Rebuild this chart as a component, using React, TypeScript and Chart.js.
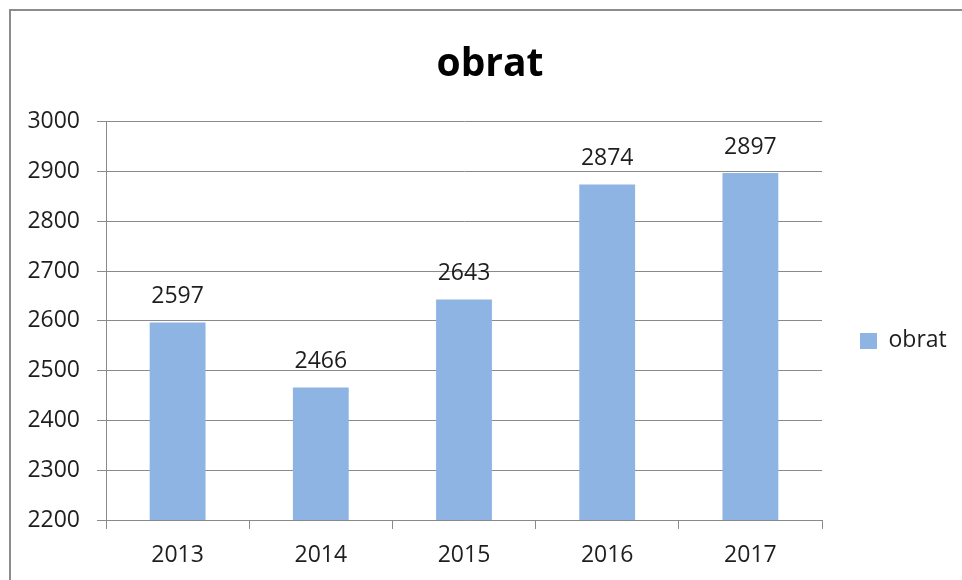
import React, { useEffect, useRef } from "react";
import { Chart, registerables } from "chart.js";

Chart.register(...registerables);

const categories = ["2013", "2014", "2015", "2016", "2017"];
const obratValues = [2597, 2466, 2643, 2874, 2897];
const seriesName = "obrat";
const chartTitle = "obrat";
const yMin = 2200;
const yMax = 3000;
const yStep = 100;

const FONT = "'Open Sans', 'Noto Sans', sans-serif";
const TEXT = "#1e1e1e";
const GRID = "#8a8a8a";
const BAR = "#8EB4E3";

const valueLabels = {
  id: "valueLabels",
  afterDatasetsDraw(chart: any) {
    const ctx = chart.ctx;
    const meta = chart.getDatasetMeta(0);
    const data = chart.data.datasets[0].data;
    ctx.save();
    ctx.font = `23px ${FONT}`;
    ctx.fillStyle = TEXT;
    ctx.textAlign = "center";
    ctx.textBaseline = "middle";
    meta.data.forEach((bar: any, i: number) => {
      ctx.fillText(String(data[i]), bar.x, bar.y - 26);
    });
    ctx.restore();
  },
};

const legendWidth = {
  id: "legendWidth",
  afterInit(chart: any) {
    const lg = chart.legend;
    if (!lg) return;
    const orig = lg.fit.bind(lg);
    lg.fit = function () {
      orig();
      this.width = 140;
    };
  },
};

export default function App() {
  const ref = useRef<HTMLCanvasElement | null>(null);

  useEffect(() => {
    if (!ref.current) return;
    const chart = new Chart(ref.current, {
      type: "bar",
      data: {
        labels: categories,
        datasets: [
          {
            label: seriesName,
            data: obratValues,
            backgroundColor: BAR,
            borderWidth: 0,
            barPercentage: 0.39,
            categoryPercentage: 1,
          },
        ],
      },
      options: {
        animation: false,
        responsive: false,
        maintainAspectRatio: false,
        layout: { padding: { left: 18, right: 0, top: 0, bottom: 0 } },
        plugins: {
          tooltip: { enabled: false },
          title: {
            display: true,
            text: chartTitle,
            color: "#000",
            font: { family: FONT, size: 39, weight: "bold" },
            padding: { top: 41, bottom: 34 },
          },
          legend: {
            display: true,
            position: "right",
            fullSize: false,
            title: {
              display: true,
              text: "",
              font: { size: 10, lineHeight: 1 },
              padding: { top: 30, bottom: 0 },
            },
            labels: {
              boxWidth: 17,
              boxHeight: 16,
              padding: 38,
              color: TEXT,
              font: { family: FONT, size: 23 },
            },
          },
        },
        scales: {
          x: {
            offset: true,
            grid: {
              display: true,
              offset: true,
              drawOnChartArea: false,
              drawTicks: true,
              tickLength: 9,
              color: GRID,
            },
            border: { display: true, color: GRID, width: 1 },
            ticks: {
              color: TEXT,
              font: { family: FONT, size: 23 },
              padding: 13,
              maxRotation: 0,
            },
            afterFit(scale: any) {
              scale.height = 60;
            },
          },
          y: {
            min: yMin,
            max: yMax,
            grid: {
              color: GRID,
              tickLength: 9,
              drawTicks: true,
            },
            border: { display: true, color: GRID, width: 1 },
            ticks: {
              stepSize: yStep,
              color: TEXT,
              font: { family: FONT, size: 23 },
              padding: 17,
              callback: (v: any) => String(v),
            },
            afterFit(scale: any) {
              scale.width = 88;
            },
          },
        },
      },
      plugins: [valueLabels, legendWidth],
    });
    return () => chart.destroy();
  }, []);

  return (
    <div
      style={{
        position: "fixed",
        left: 0,
        top: 0,
        width: 962,
        height: 580,
        overflow: "hidden",
        background: "#fff",
      }}
    >
      <div
        style={{
          position: "absolute",
          left: 9,
          top: 9,
          width: 1000,
          height: 1000,
          borderLeft: "2px solid #8c8c8c",
          borderTop: "2px solid #8c8c8c",
        }}
      />
      <canvas
        ref={ref}
        width={962}
        height={580}
        style={{ position: "absolute", left: 0, top: 0, width: 962, height: 580 }}
      />
    </div>
  );
}
